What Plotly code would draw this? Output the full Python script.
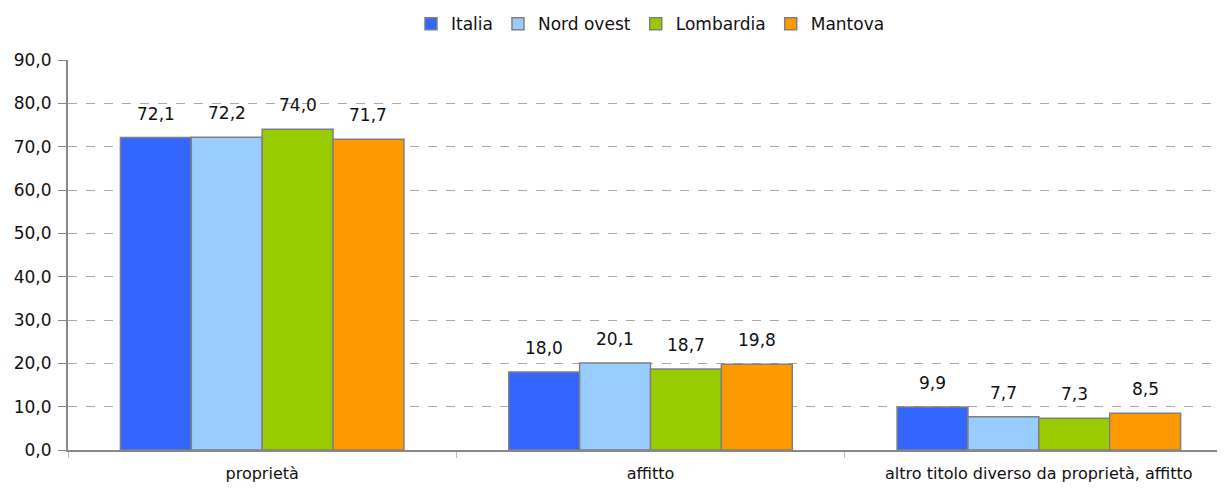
import plotly.graph_objects as go

categories = ["proprietà", "affitto", "altro titolo diverso da proprietà, affitto"]
series_names = ["Italia", "Nord ovest", "Lombardia", "Mantova"]
italia = [72.1, 18.0, 9.9]
nord_ovest = [72.2, 20.1, 7.7]
lombardia = [74.0, 18.7, 7.3]
mantova = [71.7, 19.8, 8.5]
colors = ["#3366FF", "#99CCFF", "#99CC00", "#FF9900"]

FONT = "DejaVu Sans, Liberation Sans, sans-serif"
BARGAP = 0.27
all_series = [italia, nord_ovest, lombardia, mantova]
n = len(all_series)
bw = (1 - BARGAP) / n

fig = go.Figure()
for name, vals, col in zip(series_names, all_series, colors):
    fig.add_trace(go.Bar(
        x=categories, y=vals, name=name,
        marker=dict(color=col, line=dict(color="#808080", width=1.5)),
        cliponaxis=False,
    ))

annotations = []
for j, vals in enumerate(all_series):
    for i, v in enumerate(vals):
        annotations.append(dict(
            x=i + (j - (n - 1) / 2) * bw, y=v, xref="x", yref="y",
            text=f"{v:.1f}".replace(".", ","), showarrow=False,
            yanchor="bottom", yshift=12,
            font=dict(family=FONT, size=17, color="#111111"),
        ))

# page body has an 8px margin, so the plot margins compensate for it
fig.update_layout(
    width=1225, height=493,
    barmode="group", bargap=BARGAP, bargroupgap=0,
    separators=",.",
    paper_bgcolor="white", plot_bgcolor="white",
    margin=dict(l=60, r=0, t=52, b=51, autoexpand=False),
    font=dict(family=FONT, size=16, color="#111111"),
    legend=dict(orientation="h", x=0.5, xanchor="center", y=1.092, yanchor="middle",
                yref="paper", font=dict(family=FONT, size=17), traceorder="normal"),
    annotations=annotations,
    showlegend=True,
)
fig.update_xaxes(showline=True, linecolor="#888888", linewidth=2,
                 ticks="outside", tickson="boundaries", ticklen=6, tickcolor="#BBBBBB",
                 tickfont=dict(family=FONT, size=16), showgrid=False, automargin=False,
                 ticklabelstandoff=8, range=[-0.5, 2.5])
fig.update_yaxes(range=[0, 90], dtick=10, tickformat=".1f",
                 showline=True, linecolor="#888888", linewidth=2,
                 ticks="outside", ticklen=8, tickcolor="#888888",
                 showgrid=True, gridcolor="#AAAAAA", griddash="dash", gridwidth=1,
                 tickfont=dict(family=FONT, size=17), zeroline=False, automargin=False,
                 ticklabelstandoff=3)

fig.write_html("out.html")
